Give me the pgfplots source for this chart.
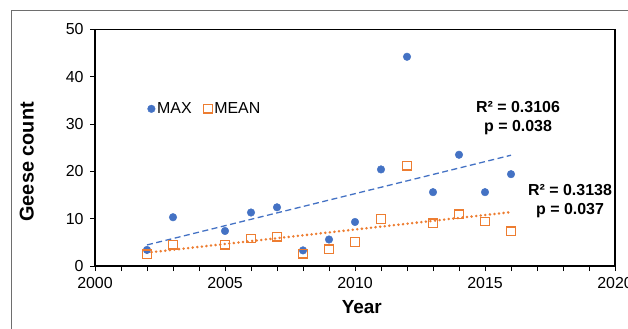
\documentclass[border=0pt]{standalone}
\usepackage{fontspec}
\setmainfont{Liberation Sans}
\usepackage{pgfplots}
\usepackage{pgfplotstable}
\pgfplotsset{compat=1.18}
\definecolor{maxblue}{RGB}{68,114,196}
\definecolor{meanorange}{RGB}{237,125,49}
\definecolor{framegray}{RGB}{110,110,110}
\pgfplotstableread{
year max mean
2002 3.4 2.5
2003 10.3 4.5
2005 7.4 4.5
2006 11.3 5.8
2007 12.4 6.2
2008 3.3 2.6
2009 5.6 3.5
2010 9.3 5.1
2011 20.4 9.9
2012 44.2 21.2
2013 15.6 9.0
2014 23.5 10.9
2015 15.6 9.4
2016 19.4 7.3
}\geese
\begin{document}
\begin{tikzpicture}[x=1bp,y=1bp]
\useasboundingbox (0,0) rectangle (628,328);
\draw[framegray, line width=0.8bp] (11,-5) -- (11,318) -- (640,318);
\begin{axis}[
  at={(95bp,62bp)}, anchor=south west,
  scale only axis, width=520bp, height=236.7bp,
  xmin=2000, xmax=2020, ymin=0, ymax=50,
  xtick={2000,2005,...,2020}, ytick={0,10,...,50},
  minor x tick num=4,
  tick align=outside, xtick pos=bottom, ytick pos=left,
  major tick length=5bp, minor tick length=5bp,
  tick style={black, line width=0.9bp},
  axis line style={black, line width=1.2bp},
  /pgf/number format/assume math mode=true,
  /pgf/number format/1000 sep={},
  tick label style={font=\fontsize{16}{19}\selectfont},
  xticklabel style={yshift=-3bp},
  yticklabel style={xshift=-3bp},
  xlabel={Year}, ylabel={Geese count},
  xlabel style={font=\bfseries\fontsize{19}{22}\selectfont, at={(axis description cs:0.513,-0.173)}, anchor=center},
  ylabel style={font=\bfseries\fontsize{20}{23}\selectfont, at={(axis description cs:-0.131,0.44)}, anchor=center},
  legend style={at={(axis cs:2001.9,33.2)}, anchor=west, draw=none, fill=none,
    font=\fontsize{16}{19}\selectfont, legend columns=2,
    /tikz/every even column/.append style={column sep=10bp}},
  clip=false,
]
\addplot[only marks, mark=*, mark size=3.8bp, color=maxblue] table[x=year,y=max]{\geese};
\addlegendentry{MAX}
\addplot[only marks, mark=square, mark size=4.3bp, color=meanorange, mark options={line width=1.3bp, fill=none}] table[x=year,y=mean]{\geese};
\addlegendentry{MEAN}
\addplot[maxblue, line width=1.3bp, dash pattern=on 6bp off 3.5bp, forget plot] coordinates {(2002,4.45) (2016,23.4)};
\addplot[meanorange, line width=2.8bp, line cap=round, dash pattern=on 0bp off 4.6bp, forget plot] coordinates {(2002,2.81) (2016,11.38)};
\node[align=center, font=\bfseries\fontsize{16}{19}\selectfont] at (axis cs:2016.27,31.3) {R² = 0.3106\\p = 0.038};
\node[align=center, font=\bfseries\fontsize{16}{19}\selectfont] at (axis cs:2018.27,13.8) {R² = 0.3138\\p = 0.037};
\end{axis}
\end{tikzpicture}
\end{document}
